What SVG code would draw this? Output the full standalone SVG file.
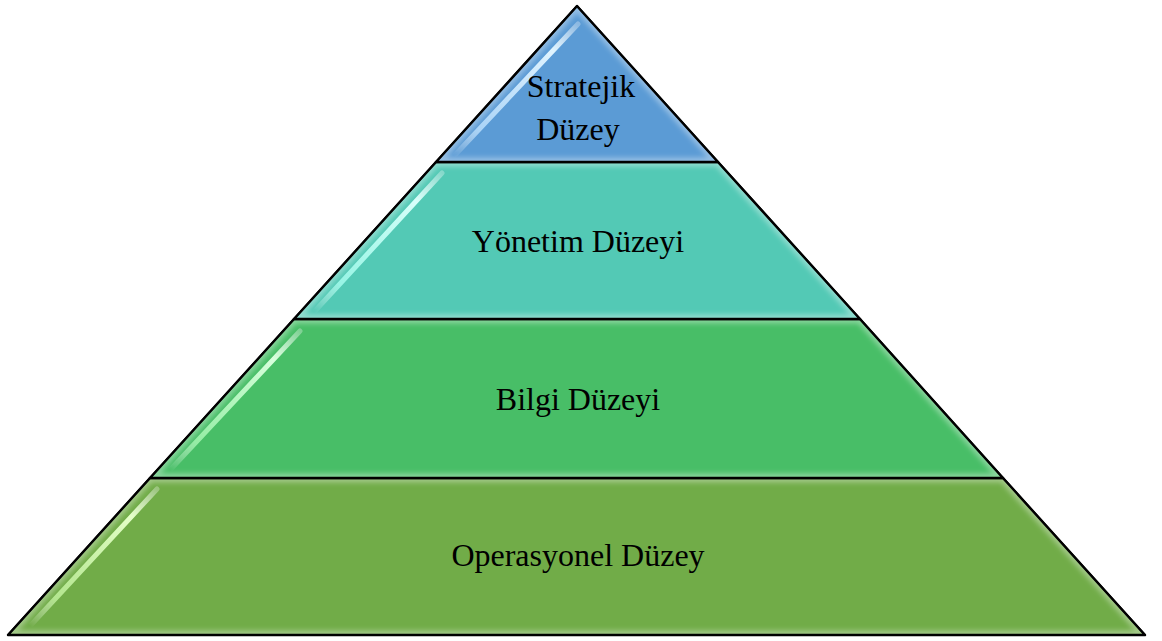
<svg xmlns="http://www.w3.org/2000/svg" width="1162" height="641" viewBox="0 0 1162 641">
<style>
.layer{stroke:#000;stroke-width:2;stroke-linejoin:round}
.rim{fill:none;stroke:#ffffff;stroke-opacity:0.35;stroke-width:9;filter:url(#blur)}
.streak{fill:none;stroke-width:5;stroke-linecap:round}
.edge{fill:none;stroke:#000;stroke-width:2.4;stroke-linejoin:round}
.lbl{font-family:"Liberation Serif","Times New Roman",serif;font-size:32px;fill:#000;text-anchor:middle}
</style>
<defs>
<filter id="blur" x="-5%" y="-5%" width="110%" height="110%"><feGaussianBlur stdDeviation="2.5"/></filter>
<filter id="soft" x="-5%" y="-5%" width="110%" height="110%"><feGaussianBlur stdDeviation="0.6"/></filter>
<clipPath id="c1"><polygon points="577,6 718,162 436,162"/></clipPath>
<clipPath id="c2"><polygon points="436,162 718,162 860,319 294,319"/></clipPath>
<clipPath id="c3"><polygon points="294,319 860,319 1003,478 150,478"/></clipPath>
<clipPath id="c4"><polygon points="150,478 1003,478 1145,635 8,635"/></clipPath>
<linearGradient id="s1" gradientUnits="userSpaceOnUse" x1="578" y1="24" x2="454" y2="156"><stop offset="0" stop-color="#ffffff" stop-opacity="0.3"/><stop offset="0.2" stop-color="#e0f4ff" stop-opacity="1"/><stop offset="0.8" stop-color="#bfe2ff" stop-opacity="0.8"/><stop offset="1" stop-color="#ffffff" stop-opacity="0"/></linearGradient>
<linearGradient id="s2" gradientUnits="userSpaceOnUse" x1="442" y1="173" x2="314" y2="312"><stop offset="0" stop-color="#ffffff" stop-opacity="0.3"/><stop offset="0.2" stop-color="#d8fffa" stop-opacity="1"/><stop offset="0.8" stop-color="#a8fff0" stop-opacity="0.8"/><stop offset="1" stop-color="#ffffff" stop-opacity="0"/></linearGradient>
<linearGradient id="s3" gradientUnits="userSpaceOnUse" x1="300" y1="331" x2="170" y2="470"><stop offset="0" stop-color="#ffffff" stop-opacity="0.3"/><stop offset="0.2" stop-color="#d8ffdc" stop-opacity="1"/><stop offset="0.8" stop-color="#a8f8b4" stop-opacity="0.8"/><stop offset="1" stop-color="#ffffff" stop-opacity="0"/></linearGradient>
<linearGradient id="s4" gradientUnits="userSpaceOnUse" x1="157" y1="489" x2="30" y2="626"><stop offset="0" stop-color="#ffffff" stop-opacity="0.3"/><stop offset="0.2" stop-color="#e4ffc8" stop-opacity="1"/><stop offset="0.8" stop-color="#c4f4a0" stop-opacity="0.8"/><stop offset="1" stop-color="#ffffff" stop-opacity="0"/></linearGradient>
</defs>
<g id="level-operasyonel">
<polygon class="layer" points="150,478 1003,478 1145,635 8,635" fill="#71AC48"/>
<polygon class="rim" clip-path="url(#c4)" points="150,478 1003,478 1145,635 8,635"/>
<line class="streak" filter="url(#soft)" x1="157" y1="489" x2="30" y2="626" stroke="url(#s4)"/>
<polygon class="edge" points="150,478 1003,478 1145,635 8,635"/>
<text class="lbl" x="578" y="566">Operasyonel Düzey</text>
</g>
<g id="level-bilgi">
<polygon class="layer" points="294,319 860,319 1003,478 150,478" fill="#48BE67"/>
<polygon class="rim" clip-path="url(#c3)" points="294,319 860,319 1003,478 150,478"/>
<line class="streak" filter="url(#soft)" x1="300" y1="331" x2="170" y2="470" stroke="url(#s3)"/>
<polygon class="edge" points="294,319 860,319 1003,478 150,478"/>
<text class="lbl" x="578" y="410">Bilgi Düzeyi</text>
</g>
<g id="level-yonetim">
<polygon class="layer" points="436,162 718,162 860,319 294,319" fill="#53C9B5"/>
<polygon class="rim" clip-path="url(#c2)" points="436,162 718,162 860,319 294,319"/>
<line class="streak" filter="url(#soft)" x1="442" y1="173" x2="314" y2="312" stroke="url(#s2)"/>
<polygon class="edge" points="436,162 718,162 860,319 294,319"/>
<text class="lbl" x="578" y="252">Yönetim Düzeyi</text>
</g>
<g id="level-stratejik">
<polygon class="layer" points="577,6 718,162 436,162" fill="#5B9BD5"/>
<polygon class="rim" clip-path="url(#c1)" points="577,6 718,162 436,162"/>
<line class="streak" filter="url(#soft)" x1="578" y1="24" x2="454" y2="156" stroke="url(#s1)"/>
<polygon class="edge" points="577,6 718,162 436,162"/>
<text class="lbl" x="581" y="97">Stratejik</text>
<text class="lbl" x="578" y="140">Düzey</text>
</g>
<g id="connectors"/>
</svg>
